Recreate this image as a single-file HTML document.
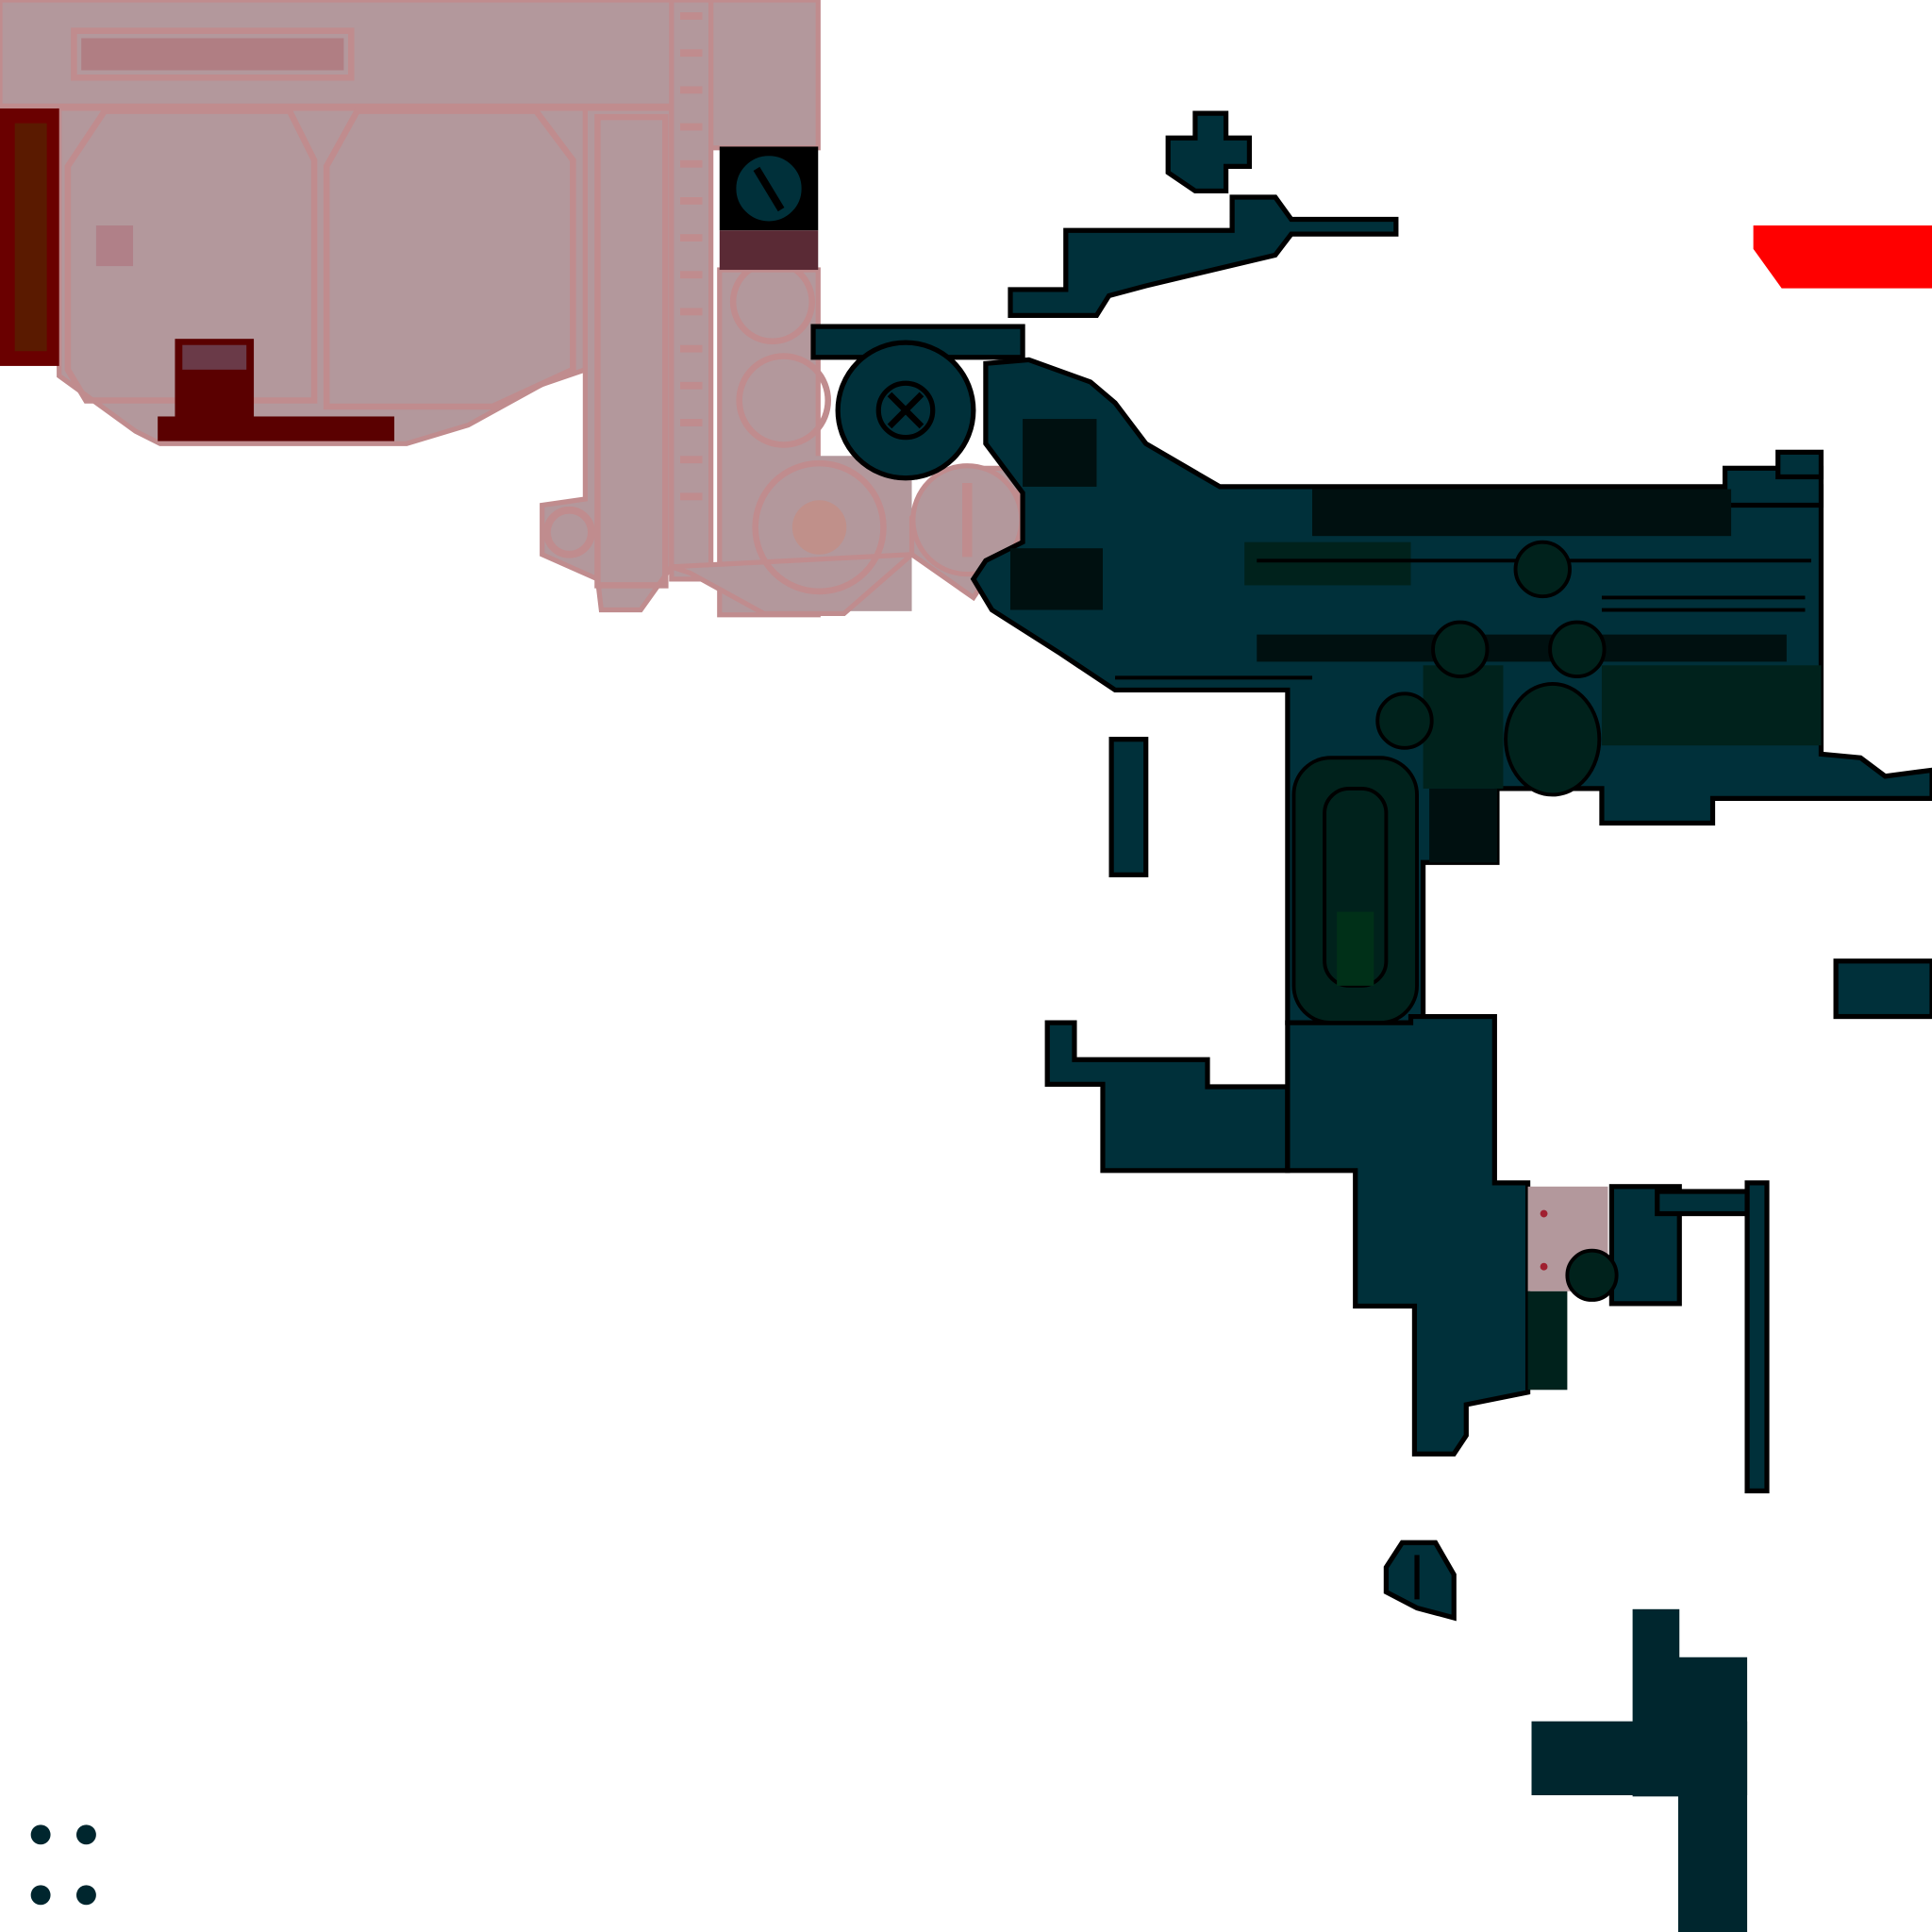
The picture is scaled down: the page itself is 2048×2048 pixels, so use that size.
<!DOCTYPE html>
<html><head><meta charset="utf-8"><style>
html,body{margin:0;padding:0;background:#fff;width:2048px;height:2048px;overflow:hidden}
svg{display:block}
</style></head><body>
<svg width="2048" height="2048" viewBox="0 0 1568 1568" xmlns="http://www.w3.org/2000/svg">
<!-- pink region -->
<g fill="#b3989c" stroke="#c08c8e" stroke-width="4">
<rect x="0" y="0" width="560" height="86"/>
<rect x="576" y="0" width="88" height="120"/>
<rect x="584" y="219" width="80" height="280"/>
<rect x="600" y="370" width="140" height="126" stroke="none"/>
<polygon points="48,88 475,88 475,300 440,312 380,345 330,360 130,360 110,350 48,305"/>
<polygon points="475,88 545,88 545,460 520,495 488,495 485,470 440,450 440,410 475,405"/>
<rect x="545" y="0" width="32" height="470"/>
<polygon points="545,460 560,465 620,498 685,498 740,450 740,420 780,380 825,380 830,440 800,470 790,485 740,450"/>
</g>
<g fill="none" stroke="#c08c8e" stroke-width="5">
<rect x="60" y="25" width="225" height="38"/>
<polygon points="55,135 85,90 235,90 255,130 255,325 70,325 55,300"/>
<polygon points="265,135 290,90 435,90 465,130 465,300 400,330 265,330"/>
<rect x="485" y="95" width="55" height="380"/>
<circle cx="627" cy="245" r="32"/>
<circle cx="636" cy="325" r="36"/>
<circle cx="665" cy="428" r="52"/>
</g>
<rect x="66" y="31" width="213" height="26" fill="#b07e83"/>
<rect x="78" y="183" width="30" height="33" fill="#b08088"/>
<circle cx="665" cy="428" r="22" fill="#c0908a"/>
<circle cx="785" cy="422" r="44" fill="#b3989c" stroke="#c08c8e" stroke-width="4"/>
<rect x="781" y="392" width="8" height="60" fill="#c08c8e"/>
<circle cx="462" cy="432" r="18" fill="none" stroke="#c08c8e" stroke-width="6"/>
<g fill="#c08c8e"><rect x="552" y="10" width="18" height="6"/><rect x="552" y="40" width="18" height="6"/><rect x="552" y="70" width="18" height="6"/><rect x="552" y="100" width="18" height="6"/><rect x="552" y="130" width="18" height="6"/><rect x="552" y="160" width="18" height="6"/><rect x="552" y="190" width="18" height="6"/><rect x="552" y="220" width="18" height="6"/><rect x="552" y="250" width="18" height="6"/><rect x="552" y="280" width="18" height="6"/><rect x="552" y="310" width="18" height="6"/><rect x="552" y="340" width="18" height="6"/><rect x="552" y="370" width="18" height="6"/><rect x="552" y="400" width="18" height="6"/></g>
<!-- dark red -->
<rect x="0" y="88" width="48" height="209" fill="#6a0000"/>
<rect x="12" y="100" width="26" height="185" fill="#5a1a00"/>
<rect x="142" y="275" width="64" height="65" fill="#5a0000"/>
<rect x="148" y="280" width="52" height="20" fill="#6a3a48"/>
<rect x="128" y="338" width="192" height="20" fill="#5a0000"/>
<rect x="584" y="119" width="80" height="68" fill="#000"/>
<circle cx="624" cy="153" r="28" fill="#00303a" stroke="#000" stroke-width="3"/>
<line x1="614" y1="137" x2="634" y2="170" stroke="#000" stroke-width="6"/>
<rect x="584" y="187" width="80" height="32" fill="#5a2a35"/>
<!-- red -->
<polygon points="1423,183 1568,183 1568,234 1446,234 1423,202" fill="#ff0000"/>
<!-- dark teal parts -->
<g fill="#00303a" stroke="#000" stroke-width="4">
<polygon points="970,92 995,92 995,112 1014,112 1014,135 995,135 995,155 970,155 948,140 948,112 970,112"/>
<polygon points="865,187 1000,187 1000,160 1035,160 1048,178 1133,178 1133,190 1048,190 1035,207 930,232 900,240 890,256 820,256 820,235 865,235"/>
<rect x="660" y="265" width="170" height="25"/>
<circle cx="735" cy="333" r="55"/>
<polygon points="800,295 835,292 885,310 905,327 930,360 990,395 1478,395 1478,612 1510,615 1530,630 1568,625 1568,648 1390,648 1390,668 1300,668 1300,640 1215,640 1215,700 1155,700 1155,830 1045,830 1045,560 905,560 860,530 805,495 790,470 800,455 830,440 830,400 800,360"/>
<rect x="1400" y="380" width="78" height="30"/>
<rect x="1443" y="367" width="35" height="20"/>
<rect x="902" y="600" width="28" height="110"/>
<polygon points="850,830 872,830 872,860 980,860 980,882 1045,882 1045,950 895,950 895,880 850,880"/>
<polygon points="1045,830 1145,830 1145,825 1213,825 1213,960 1240,960 1240,1130 1190,1140 1190,1165 1180,1180 1148,1180 1148,1060 1100,1060 1100,950 1045,950"/>
<rect x="1490" y="780" width="78" height="45"/>
<rect x="1308" y="963" width="55" height="95"/>
<rect x="1345" y="967" width="75" height="18"/>
<rect x="1418" y="960" width="16" height="250"/>
<polygon points="1138,1252 1165,1252 1180,1278 1180,1313 1150,1305 1125,1292 1125,1272"/>
</g>
<line x1="1150" y1="1262" x2="1150" y2="1298" stroke="#000" stroke-width="4"/>
<rect x="1240" y="963" width="65" height="85" fill="#b3989c"/>
<circle cx="1253" cy="985" r="3" fill="#a02030"/><circle cx="1253" cy="1028" r="3" fill="#a02030"/>
<circle cx="1292" cy="1035" r="20" fill="#00221c" stroke="#000" stroke-width="3"/>
<rect x="1240" y="1048" width="32" height="80" fill="#00221c"/>
<g fill="#001010">
<rect x="1065" y="397" width="340" height="38"/>
<rect x="830" y="340" width="60" height="55"/>
<rect x="1020" y="515" width="430" height="22"/>
<rect x="1160" y="640" width="55" height="60"/>
<rect x="820" y="445" width="75" height="50"/>
</g>
<g fill="#00221c">
<rect x="1300" y="540" width="178" height="65"/>
<rect x="1155" y="540" width="65" height="100"/>
<rect x="1010" y="440" width="135" height="35"/>
</g>
<g fill="none" stroke="#000" stroke-width="3">
<line x1="1300" y1="485" x2="1465" y2="485"/><line x1="1300" y1="495" x2="1465" y2="495"/>
<line x1="1020" y1="455" x2="1470" y2="455"/>
<line x1="905" y1="550" x2="1065" y2="550"/>
</g>
<g fill="#00221c" stroke="#000" stroke-width="3">
<rect x="1050" y="615" width="100" height="215" rx="30"/>
<rect x="1075" y="640" width="50" height="160" rx="20"/>
<ellipse cx="1260" cy="600" rx="38" ry="45"/>
<circle cx="1140" cy="585" r="22"/>
<circle cx="1252" cy="462" r="22"/><circle cx="1185" cy="527" r="22"/><circle cx="1280" cy="527" r="22"/>
</g>
<rect x="1085" y="740" width="30" height="60" fill="#003018"/>
<line x1="722" y1="320" x2="748" y2="346" stroke="#000" stroke-width="5"/>
<line x1="748" y1="320" x2="722" y2="346" stroke="#000" stroke-width="5"/>
<circle cx="735" cy="333" r="22" fill="none" stroke="#000" stroke-width="4"/>
<!-- cross bottom right -->
<g fill="#00262e">
<rect x="1325" y="1306" width="38" height="152"/>
<rect x="1362" y="1345" width="56" height="223"/>
<rect x="1243" y="1397" width="175" height="60"/>
</g>
<!-- dots -->
<g fill="#00262e"><circle cx="33" cy="1489" r="8"/><circle cx="70" cy="1489" r="8"/><circle cx="33" cy="1538" r="8"/><circle cx="70" cy="1538" r="8"/></g>
</svg>
</body></html>
